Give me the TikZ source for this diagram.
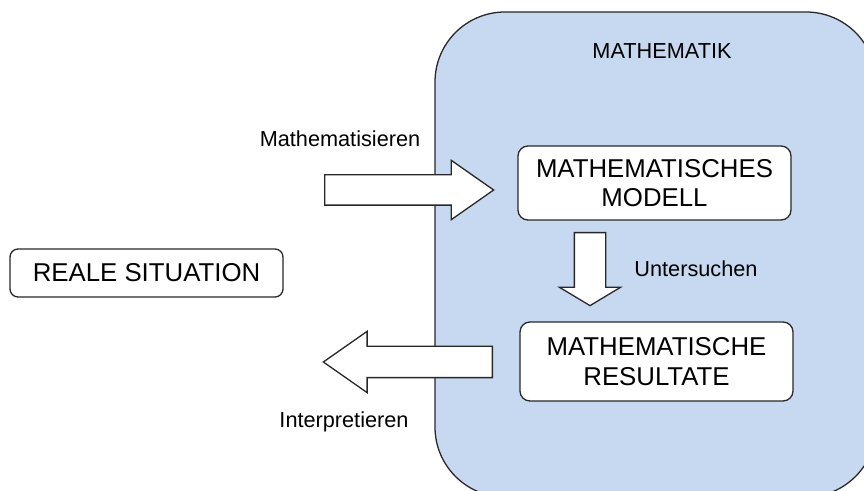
\documentclass[tikz,border=0pt]{standalone}
\usepackage{fontspec}
\setmainfont{Liberation Sans}
\usetikzlibrary{shapes.arrows,positioning}
\definecolor{mBlue}{RGB}{198,217,240}
\definecolor{mLine}{RGB}{40,40,40}
\begin{document}
\begin{tikzpicture}[x=0.5pt,y=-0.5pt,
  box/.style={draw=mLine, line width=0.65pt, fill=white, rounded corners=5pt, minimum width=136.5pt, inner sep=0pt, align=center, font=\fontsize{12.9}{14.65}\selectfont},
  lbl/.style={anchor=base, inner sep=0pt, font=\fontsize{10.85}{13}\selectfont},
  blk/.style={draw=mLine, line width=0.65pt, fill=white, shape=single arrow, single arrow tip angle=70, inner xsep=0pt, inner ysep=7.5pt, single arrow head extend=7.5pt, anchor=tail},
]
\path[use as bounding box, clip] (0,0) rectangle (864,491);
% math area
\node[draw=mLine, line width=0.65pt, fill=mBlue, rounded corners=35pt, minimum width=220.5pt, minimum height=242.5pt, inner sep=0pt] (mathe) at (655.5,254.5) {};
\node[lbl] (matheLbl) at (662,59) {MATHEMATIK};
% boxes
\node[box, rounded corners=4pt, minimum height=24pt] (real) at (146.5,273) {REALE SITUATION};
\node[box, minimum height=37pt] (modell) at (654.5,183) {MATHEMATISCHES\\MODELL};
\node[box, minimum height=39.5pt] (result) at (656.5,361.5) {MATHEMATISCHE\\RESULTATE};
% block arrows
\node[blk, minimum height=84.5pt, inner ysep=7.25pt, single arrow head extend=7.25pt] (mathArr) at (324,190) {};
\node[blk, rotate=-90, single arrow tip angle=118, minimum height=36.5pt] (untArr) at (590,232) {};
\node[blk, rotate=180, minimum height=84.5pt] (intArr) at (493,362) {};
% labels
\node[lbl] (mathLbl) at (340,147) {Mathematisieren};
\node[lbl] (untLbl) at (696,277) {Untersuchen};
\node[lbl] (intLbl) at (344,428) {Interpretieren};
\end{tikzpicture}
\end{document}
